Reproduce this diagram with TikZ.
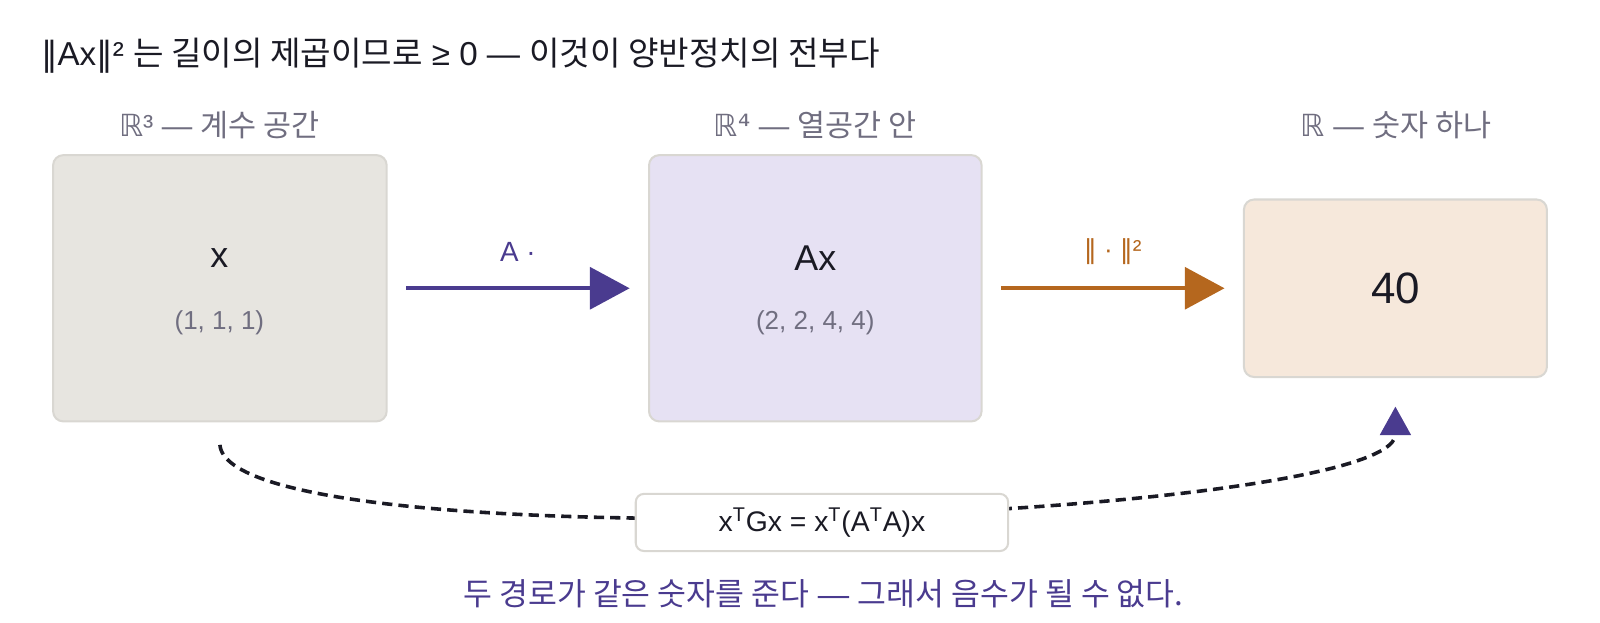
\documentclass[tikz,border=0pt]{standalone}
\usepackage{fontspec}
\setmainfont{Liberation Sans}
\newfontfamily\kofont{Noto Sans CJK KR}
\newfontfamily\symfont{DejaVu Sans}
\usetikzlibrary{arrows.meta,positioning}
\definecolor{mapviolet}{RGB}{74,59,143}
\definecolor{normorange}{RGB}{181,103,30}
\definecolor{labelgray}{RGB}{112,110,128}
\definecolor{edgegray}{RGB}{217,215,210}
\definecolor{coefffill}{RGB}{231,229,224}
\definecolor{colfill}{RGB}{230,225,243}
\definecolor{numfill}{RGB}{246,232,219}
\definecolor{inkdark}{RGB}{26,26,36}
\newcommand{\kor}[1]{{\kofont #1}}

\begin{document}
\begin{tikzpicture}[x=0.02cm, y=-0.02cm,
    spacebox/.style={draw=edgegray, line width=0.04cm, rounded corners=0.2cm},
    spacelabel/.style={font=\fontsize{17}{20}\selectfont, text=labelgray},
    coords/.style={font=\fontsize{14.5}{17}\selectfont, text=labelgray},
    maparrow/.style={line width=0.08cm, -{Triangle[length=0.78cm, width=0.82cm]}}]
    \useasboundingbox (0,0) rectangle (1568,610.5);

    % Headline
    \node[anchor=west, font=\fontsize{18.5}{22}\selectfont, text=inkdark] (title) at (34, 55)
        {{\symfont ‖}Ax{\symfont ‖}² \kor{는 길이의 제곱이므로} ≥ 0 — \kor{이것이 양반정치의 전부다}};

    % The three spaces
    \node[spacebox, fill=coefffill, minimum width=6.54cm, minimum height=5.22cm] (x) at (215.5, 282.5) {};
    \node[spacebox, fill=colfill, minimum width=6.52cm, minimum height=5.22cm] (ax) at (799, 282.5) {};
    \node[spacebox, fill=numfill, minimum width=5.94cm, minimum height=3.48cm] (n) at (1367.5, 282.5) {};

    \node[spacelabel] (lx) at (215, 123) {{\symfont ℝ}³ — \kor{계수 공간}};
    \node[spacelabel] (lax) at (799, 123) {{\symfont ℝ⁴} — \kor{열공간 안}};
    \node[spacelabel] (ln) at (1368, 123) {{\symfont ℝ} — \kor{숫자 하나}};

    \node[font=\fontsize{20}{24}\selectfont, text=inkdark] at (215, 253) {x};
    \node[coords] at (215, 316) {(1, 1, 1)};
    \node[font=\fontsize{20}{24}\selectfont, text=inkdark] at (799, 253) {Ax};
    \node[coords] at (799, 316) {(2, 2, 4, 4)};
    \node[font=\fontsize{24.5}{29}\selectfont, text=inkdark] at (1368, 283) {40};

    % Maps between them
    \draw[maparrow, mapviolet] ([xshift=0.36cm]x.east) -- ([xshift=-0.36cm]ax.west)
        node[midway, above=0.36cm, font=\fontsize{15.5}{18}\selectfont] {A ·};
    \draw[maparrow, normorange] ([xshift=0.36cm]ax.east) -- ([xshift=-0.36cm]n.west)
        node[midway, above=0.3cm, font=\fontsize{14.5}{17}\selectfont] {{\symfont ‖} · {\symfont ‖}²};

    % Shortcut through the Gram matrix
    \draw[inkdark, line width=0.07cm, dash pattern=on 0.2cm off 0.12cm,
          -{Triangle[length=0.56cm, width=0.6cm, color=mapviolet]}]
        ([yshift=-0.44cm]x.south) .. controls +(10,118) and +(0,112) .. ([yshift=-0.56cm]n.south);
    \node[draw=edgegray, line width=0.04cm, rounded corners=0.16cm, fill=white,
          minimum width=7.3cm, minimum height=1.12cm, font=\fontsize{15.8}{19}\selectfont, text=inkdark] (gram) at (805.5, 512)
        {x\textsuperscript{T}Gx = x\textsuperscript{T}(A\textsuperscript{T}A)x};

    \node[font=\fontsize{17.5}{21}\selectfont, text=mapviolet] (moral) at (807, 582)
        {\kor{두 경로가 같은 숫자를 준다} — \kor{그래서 음수가 될 수 없다.}};
\end{tikzpicture}
\end{document}
